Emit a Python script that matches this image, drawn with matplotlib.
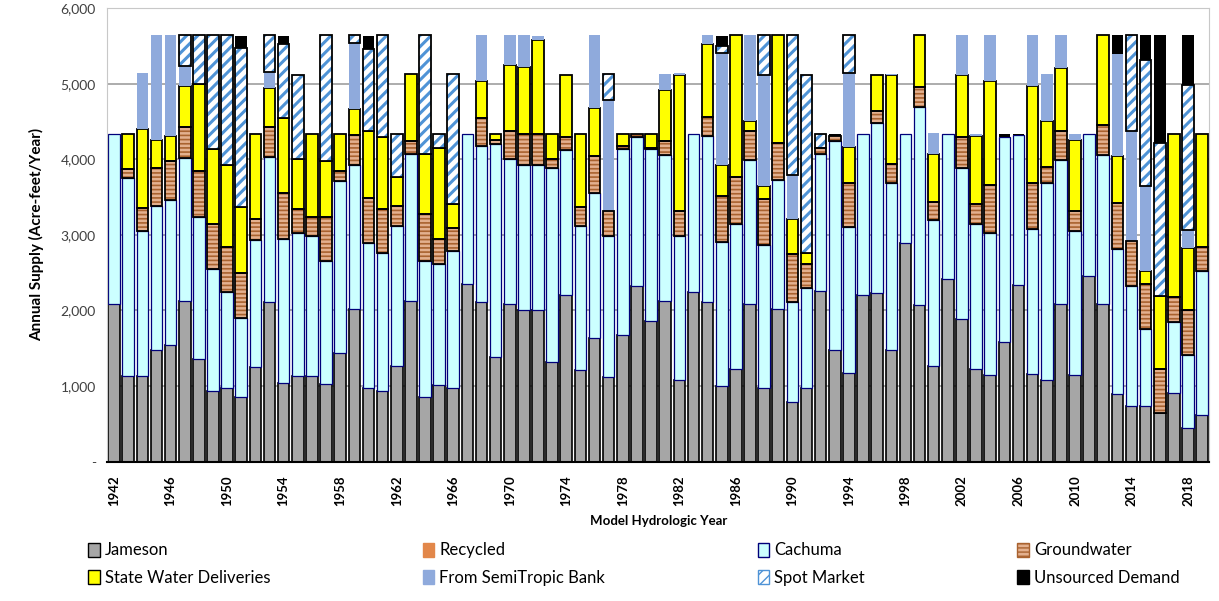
import matplotlib.pyplot as plt
from matplotlib.patches import Patch
import numpy as np

# Water supply by source, acre-feet per year, model hydrologic years 1942-2019
years = np.arange(1942, 2020)

jameson = [2090, 1130, 1130, 1470, 1540, 2130, 1360, 940, 970, 850,
           1250, 2110, 1040, 1130, 1130, 1030, 1440, 2020, 970, 940,
           1270, 2130, 850, 1010, 980, 2350, 2110, 1380, 2090, 2000,
           2000, 1320, 2200, 1210, 1630, 1120, 1670, 2320, 1860, 2130,
           1080, 2240, 2110, 1000, 1230, 2080, 970, 2020, 790, 970,
           2260, 1470, 1170, 2200, 2230, 1470, 2890, 2070, 1270, 2420,
           1880, 1230, 1140, 1580, 2340, 1160, 1080, 2090, 1140, 2460,
           2080, 900, 730, 730, 640, 910, 450, 620]
recycled = [0] * 78
cachuma = [2250, 2620, 1920, 1910, 1920, 1890, 1880, 1610, 1270, 1050,
           1680, 1920, 1910, 1900, 1850, 1630, 2270, 1910, 1920, 1820,
           1850, 1940, 1810, 1610, 1800, 1990, 2070, 2820, 1910, 1930,
           1930, 2560, 1920, 1910, 1920, 1870, 2460, 1970, 2270, 1930,
           1910, 2100, 2200, 1900, 1910, 1910, 1890, 1700, 1320, 1330,
           1810, 2770, 1930, 2140, 2250, 2210, 1450, 2620, 1920, 1920,
           2000, 1910, 1890, 2710, 1980, 1920, 2600, 1900, 1910, 1880,
           1980, 1910, 1590, 1030, 0, 940, 960, 1900]
groundwater = [0, 120, 310, 510, 520, 410, 600, 600, 600, 590,
               280, 400, 600, 310, 260, 580, 140, 390, 600, 580,
               260, 170, 610, 330, 310, 0, 370, 50, 380, 400,
               400, 120, 170, 250, 490, 320, 50, 50, 20, 180,
               320, 0, 250, 620, 630, 380, 610, 490, 630, 320,
               80, 70, 590, 0, 160, 260, 0, 260, 250, 0,
               410, 270, 630, 0, 0, 600, 220, 390, 260, 0,
               390, 610, 600, 590, 580, 330, 590, 320]
state_water = [0, 460, 1040, 370, 330, 540, 1150, 980, 1090, 880,
               1120, 510, 1000, 670, 1090, 740, 490, 340, 880, 950,
               380, 890, 800, 1200, 320, 0, 490, 90, 870, 890,
               1250, 340, 830, 970, 640, 0, 160, 0, 190, 680,
               1810, 0, 970, 410, 1870, 140, 170, 1430, 470, 140,
               0, 0, 470, 0, 470, 1170, 0, 690, 630, 0,
               820, 900, 1370, 0, 0, 1290, 610, 830, 940, 0,
               1190, 620, 0, 170, 970, 2160, 830, 1500]
semitropic = [0, 0, 740, 1380, 1330, 260, 0, 0, 0, 0,
              0, 220, 0, 0, 0, 0, 0, 880, 0, 0,
              0, 0, 0, 0, 0, 0, 600, 0, 390, 420,
              50, 0, 0, 0, 960, 1480, 0, 0, 0, 210,
              20, 0, 110, 1480, 0, 1130, 1480, 0, 580, 0,
              0, 0, 980, 0, 0, 20, 0, 0, 280, 0,
              530, 30, 610, 0, 0, 670, 620, 430, 90, 0,
              0, 1350, 1460, 1130, 0, 0, 230, 0]
spot_market = [0, 0, 0, 0, 0, 420, 660, 1520, 1720, 2100,
               0, 490, 980, 1110, 0, 1670, 0, 110, 1090, 1360,
               580, 0, 1580, 190, 1720, 0, 0, 0, 0, 0,
               0, 0, 0, 0, 0, 340, 0, 0, 0, 0,
               0, 0, 0, 90, 0, 0, 530, 0, 1860, 2350,
               190, 0, 510, 0, 0, 0, 0, 0, 0, 0,
               0, 0, 0, 0, 0, 0, 0, 0, 0, 0,
               0, 0, 1270, 1670, 2030, 0, 1920, 0]
unsourced = [0, 0, 0, 0, 0, 0, 0, 0, 0, 160,
             0, 0, 100, 0, 0, 0, 0, 0, 170, 0,
             0, 0, 0, 0, 0, 0, 0, 0, 0, 0,
             0, 0, 0, 0, 0, 0, 0, 0, 0, 0,
             0, 0, 0, 130, 0, 0, 0, 0, 0, 0,
             0, 30, 0, 0, 0, 0, 0, 0, 0, 0,
             0, 0, 0, 50, 20, 0, 0, 0, 0, 0,
             0, 250, 0, 320, 1420, 0, 660, 0]

plt.rcParams['font.family'] = ['Lato', 'DejaVu Sans']

fig = plt.figure(figsize=(12.19, 6.01), dpi=100)
ax = fig.add_axes([0.0878, 0.232, 0.9042, 0.7545])

# name, values, face, edge, edge width, hatch, hatch colour, hatch width
layers = [
    ('Jameson', jameson, '#A6A6A6', 'black', 1.2, None, None, 0),
    ('Recycled', recycled, '#E2874A', '#E2874A', 0, None, None, 0),
    ('Cachuma', cachuma, '#CCFFFF', '#00007A', 0.9, None, None, 0),
    ('Groundwater', groundwater, '#E3B08E', 'black', 1.3, '----', '#A9622F', 1.2),
    ('State Water Deliveries', state_water, '#FFFF00', 'black', 1.3, None, None, 0),
    ('From SemiTropic Bank', semitropic, '#8FAADC', '#8FAADC', 0, None, None, 0),
    ('Spot Market', spot_market, 'white', 'black', 1.3, '///', '#4F93D6', 2.2),
    ('Unsourced Demand', unsourced, 'black', 'black', 0, None, None, 0),
]

width = 0.82
bottom = np.zeros(len(years))
handles = []
for name, vals, face, edge, lw, hatch, hcol, hlw in layers:
    vals = np.array(vals, dtype=float)
    keep = vals > 0
    x, h, b = years[keep], vals[keep], bottom[keep]
    if hatch:
        with plt.rc_context({'hatch.linewidth': hlw}):
            ax.bar(x, h, width, bottom=b, color=face, edgecolor=hcol, hatch=hatch,
                   linewidth=0, zorder=2)
            handles.append(Patch(facecolor=face, edgecolor=hcol, hatch=hatch, label=name))
        ax.bar(x, h, width, bottom=b, fill=False, edgecolor=edge,
               linewidth=lw, zorder=3)
    else:
        ax.bar(x, h, width, bottom=b, color=face, edgecolor=edge,
               linewidth=lw, zorder=2)
        handles.append(Patch(facecolor=face, edgecolor=edge, linewidth=1, label=name))
    bottom += vals

ax.set_xlim(1941.5, 2019.5)
ax.set_ylim(0, 6000)
ax.set_yticks(range(0, 6001, 1000))
ax.set_yticklabels(['-'] + ['{:,}'.format(v) for v in range(1000, 6001, 1000)],
                   fontsize=10, color='#404040')
ax.set_xticks(years[::4])
ax.set_xticklabels([str(y) for y in years[::4]], rotation=90, fontsize=9.5,
                   fontweight='bold')
ax.tick_params(length=0, pad=8)
ax.tick_params(axis='x', pad=10)
ax.grid(axis='y', color='#A6A6A6', linewidth=1.3, zorder=0)
ax.set_axisbelow(True)
for s in ['top', 'left', 'right']:
    ax.spines[s].set_color('#C8C8C8')
ax.spines['bottom'].set_color('black')
ax.spines['bottom'].set_linewidth(1.5)

ax.set_ylabel('Annual Supply (Acre-feet/Year)', fontsize=11, fontweight='bold',
              labelpad=12)
ax.set_xlabel('Model Hydrologic Year', fontsize=9.5, fontweight='bold', labelpad=6)

# legend reads row by row, matplotlib fills column by column
order = [0, 4, 1, 5, 2, 6, 3, 7]
fig.legend([handles[i] for i in order], [handles[i].get_label() for i in order],
           ncol=4, loc='lower left', bbox_to_anchor=(0.06, 0.0, 0.92, 0.11),
           mode='expand', frameon=False, fontsize=12, handlelength=0.7,
           handleheight=0.9, handletextpad=0.3, labelspacing=0.7)

fig.savefig('out.png', dpi=100)
